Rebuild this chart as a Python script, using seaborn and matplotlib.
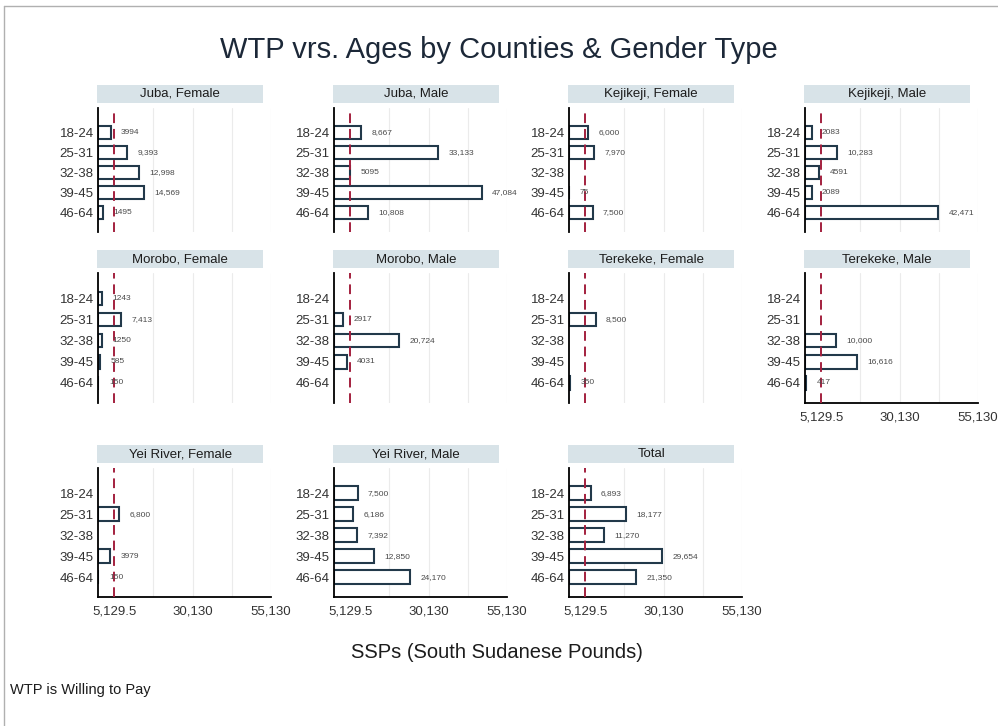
import numpy as np
import pandas as pd
import matplotlib
matplotlib.use("Agg")
import matplotlib.pyplot as plt
from matplotlib.patches import Rectangle
import seaborn as sns

sns.set_theme(style="white")
plt.rcParams['font.family'] = ['Liberation Sans', 'DejaVu Sans']

ages = ["18-24", "25-31", "32-38", "39-45", "46-64"]
panels = ["Juba, Female", "Juba, Male", "Kejikeji, Female", "Kejikeji, Male",
          "Morobo, Female", "Morobo, Male", "Terekeke, Female", "Terekeke, Male",
          "Yei River, Female", "Yei River, Male", "Total"]
nan = np.nan
juba_f = [3994, 9393, 12998, 14569, 1495]
juba_m = [8667, 33133, 5095, 47084, 10808]
keji_f = [6000, 7970, nan, 75, 7500]
keji_m = [2083, 10283, 4591, 2089, 42471]
morobo_f = [1243, 7413, 1250, 585, 150]
morobo_m = [nan, 2917, 20724, 4031, nan]
tere_f = [nan, 8500, nan, nan, 350]
tere_m = [nan, nan, 10000, 16616, 417]
yei_f = [nan, 6800, nan, 3979, 150]
yei_m = [7500, 6186, 7392, 12850, 24170]
total = [6893, 18177, 11270, 29654, 21350]
series = [juba_f, juba_m, keji_f, keji_m, morobo_f, morobo_m, tere_f, tere_m,
          yei_f, yei_m, total]
ref_value = 5129.5
show_ref = [True, True, True, True, True, True, True, True, True, False, True]
major_ticks = [5129.5, 30130, 55130]
major_labels = ["5,129.5", "30,130", "55,130"]
minor_ticks = [17629.75, 42630]

rows = []
for p, vals in zip(panels, series):
    for a, v in zip(ages, vals):
        rows.append({"panel": p, "age": a, "wtp": v})
df = pd.DataFrame(rows)

W, H = 998, 726
fig = plt.figure(figsize=(W / 100, H / 100), dpi=100)

col_left = [98, 334, 569, 805]
row_span = [(108, 232), (273, 403), (468, 597)]
ax_w = 173

edge = "#22394a"
for i, p in enumerate(panels):
    r, c = divmod(i, 4)
    top, bot = row_span[r]
    ax = fig.add_axes([col_left[c] / W, 1 - bot / H, ax_w / W, (bot - top) / H])
    sub = df[df.panel == p]
    sns.barplot(data=sub, x="wtp", y="age", order=ages, ax=ax, color="white",
                edgecolor=edge, linewidth=1.5, width=0.64, orient="h",
                errorbar=None, saturation=1)
    ax.set_xlim(0, 55130)
    ax.set_ylim(4.95, -1.2)
    for g in minor_ticks + major_ticks[1:]:
        ax.axvline(g, color="#ebebeb", lw=0.8, zorder=0)
    if show_ref[i]:
        ax.axvline(ref_value, color="#a3203e", lw=1.4, ls=(0, (5, 3)), zorder=3)
    vals = series[i]
    for j, v in enumerate(vals):
        if np.isnan(v):
            continue
        txt = f"{v:,.0f}" if v >= ref_value else f"{v:.0f}"
        ax.annotate(txt, (v, j), xytext=(7.5, 0), textcoords="offset points",
                    va="center", ha="left", fontsize=6, color="#4a4a4a")
    ax.set_xlabel("")
    ax.set_ylabel("")
    ax.tick_params(axis="y", length=0, labelsize=9.5, colors="#333333", pad=3)
    for s in ["top", "right"]:
        ax.spines[s].set_visible(False)
    ax.spines["left"].set_color("black")
    ax.spines["left"].set_linewidth(1.3)
    bottom_panel = (r == 2) or (r == 1 and c == 3)
    if bottom_panel:
        ax.spines["bottom"].set_color("black")
        ax.spines["bottom"].set_linewidth(1.3)
        ax.set_xticks(major_ticks)
        ax.set_xticklabels(major_labels)
        ax.set_xticks(minor_ticks, minor=True)
        ax.tick_params(axis="x", which="major", direction="inout", length=6,
                       width=1.2, labelsize=9.5, colors="#333333", pad=3)
        ax.tick_params(axis="x", which="minor", direction="inout", length=4,
                       width=1.0, color="black")
    else:
        ax.spines["bottom"].set_visible(False)
        ax.set_xticks([])
    h = bot - top
    ax.add_patch(Rectangle((-0.005, 1 + 5 / h), 166 / ax_w, 18 / h,
                           transform=ax.transAxes, clip_on=False,
                           facecolor="#d8e3e8", edgecolor="none"))
    ax.text(0.475, 1 + 14 / h, p, transform=ax.transAxes, ha="center",
            va="center", fontsize=9.5, color="#1c1c1c")

fig.text(0.5, 1 - 50 / H, "WTP vrs. Ages by Counties & Gender Type",
         ha="center", va="center", fontsize=21, color="#1c2838")
fig.text(497 / W, 1 - 652 / H, "SSPs (South Sudanese Pounds)",
         ha="center", va="center", fontsize=14.5, color="#1c1c1c")
fig.text(10 / W, 1 - 690 / H, "WTP is Willing to Pay",
         ha="left", va="center", fontsize=10.5, color="#1c1c1c")

fig.add_artist(plt.Line2D([4 / W, 1], [1 - 6 / H, 1 - 6 / H],
                          transform=fig.transFigure, color="#b0b0b0", lw=1))
fig.add_artist(plt.Line2D([4 / W, 4 / W], [0, 1 - 6 / H],
                          transform=fig.transFigure, color="#b0b0b0", lw=1))

fig.savefig("out.png", dpi=100)
